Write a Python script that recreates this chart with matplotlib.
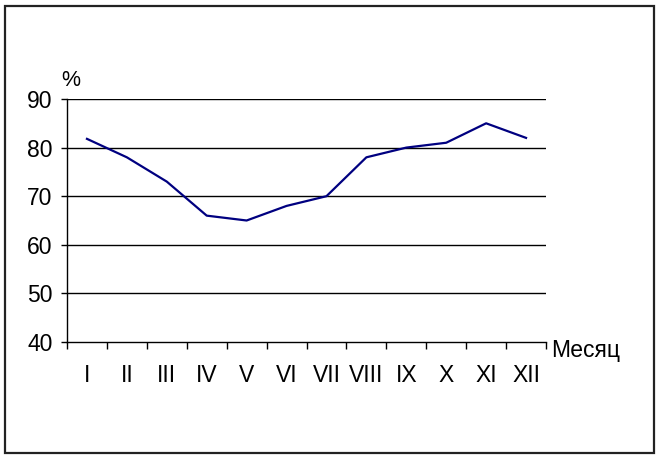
import matplotlib.pyplot as plt
from matplotlib.patches import Rectangle

# Данные
months = ['I', 'II', 'III', 'IV', 'V', 'VI', 'VII', 'VIII', 'IX', 'X', 'XI', 'XII']
values = [81.8, 78, 73, 66, 65, 68, 70, 78, 80, 81, 85, 82]
y_ticks = [40, 50, 60, 70, 80, 90]

plt.rcParams['font.family'] = ['Liberation Sans', 'DejaVu Sans']

fig = plt.figure(figsize=(6.59, 4.58), dpi=100)
ax = fig.add_axes([67 / 659, 1 - 342 / 458, (546 - 67) / 659, (342 - 99) / 458])

# рамка вокруг всего рисунка
fig.patches.append(Rectangle((5 / 659, 5 / 458), 649 / 659, 447 / 458,
                             transform=fig.transFigure, fill=False,
                             edgecolor='#222222', lw=1.6))

xs = [i + 0.5 for i in range(len(months))]
ax.plot(xs, values, color='#000080', lw=1.6)

ax.set_xlim(0, len(months))
ax.set_ylim(40, 90)

# горизонтальные линии сетки
for y in y_ticks[1:]:
    ax.axhline(y, color='black', lw=1, zorder=0)

ax.set_yticks(y_ticks)
ax.set_yticklabels([str(v) for v in y_ticks], fontsize=16.5)
ax.tick_params(axis='y', length=4.5, width=1, pad=6, direction='out')

ax.set_xticks(range(len(months) + 1))
ax.set_xticklabels([])
ax.set_xticks(xs, minor=True)
ax.set_xticklabels(months, minor=True, fontsize=16.5)
ax.tick_params(axis='x', which='major', length=5, width=1, direction='out')
ax.tick_params(axis='x', which='minor', length=0, pad=16)

for s in ['top', 'right']:
    ax.spines[s].set_visible(False)
for s in ['left', 'bottom']:
    ax.spines[s].set_linewidth(1)

fig.text(61 / 659, 1 - 91 / 458, '%', fontsize=15.5, ha='left', va='bottom')
fig.text(551 / 659, 1 - 350 / 458, 'Месяц', fontsize=16.5, ha='left', va='center')

fig.savefig('out.png', dpi=100)
